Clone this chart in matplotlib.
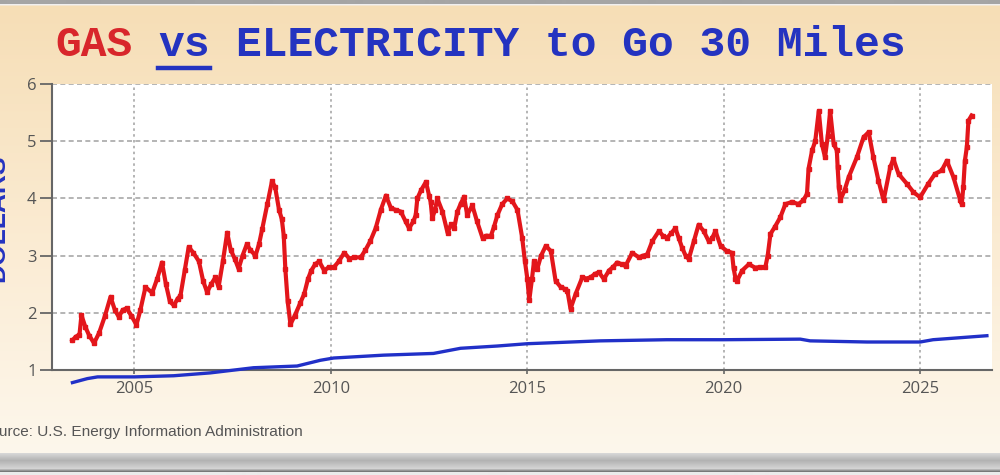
import numpy as np
import matplotlib.pyplot as plt
from matplotlib.lines import Line2D

# gas cost to go 30 miles
gas_year = [2003.42, 2003.5, 2003.6, 2003.65, 2003.75, 2003.85, 2003.97, 2004.1, 2004.25, 2004.39,
            2004.5, 2004.6, 2004.7, 2004.8, 2004.92, 2005.05, 2005.15, 2005.28, 2005.45, 2005.58,
            2005.7, 2005.8, 2005.9, 2006.0, 2006.1, 2006.17, 2006.28, 2006.38, 2006.5, 2006.64,
            2006.75, 2006.85, 2006.95, 2007.06, 2007.14, 2007.25, 2007.36, 2007.45, 2007.55, 2007.65,
            2007.75, 2007.86, 2007.95, 2008.08, 2008.17, 2008.25, 2008.38, 2008.5, 2008.58, 2008.68,
            2008.75, 2008.8, 2008.84, 2008.9, 2008.97, 2009.08, 2009.22, 2009.32, 2009.42, 2009.5,
            2009.6, 2009.7, 2009.83, 2009.95, 2010.08, 2010.2, 2010.34, 2010.47, 2010.6, 2010.76,
            2010.88, 2011.0, 2011.14, 2011.27, 2011.4, 2011.53, 2011.65, 2011.78, 2011.9, 2011.99,
            2012.1, 2012.16, 2012.2, 2012.3, 2012.42, 2012.5, 2012.54, 2012.58, 2012.65, 2012.71,
            2012.84, 2012.97, 2013.06, 2013.14, 2013.22, 2013.3, 2013.39, 2013.47, 2013.6, 2013.72,
            2013.86, 2013.96, 2014.07, 2014.15, 2014.24, 2014.36, 2014.49, 2014.62, 2014.75, 2014.87,
            2014.94, 2015.0, 2015.05, 2015.12, 2015.17, 2015.25, 2015.35, 2015.47, 2015.6, 2015.72,
            2015.85, 2015.95, 2016.02, 2016.1, 2016.23, 2016.4, 2016.5, 2016.61, 2016.72, 2016.82,
            2016.95, 2017.08, 2017.18, 2017.29, 2017.4, 2017.5, 2017.67, 2017.84, 2017.95, 2018.05,
            2018.18, 2018.35, 2018.45, 2018.56, 2018.67, 2018.77, 2018.86, 2018.94, 2019.03, 2019.11,
            2019.24, 2019.36, 2019.49, 2019.62, 2019.7, 2019.79, 2019.92, 2020.08, 2020.21, 2020.25,
            2020.3, 2020.34, 2020.47, 2020.64, 2020.8, 2020.93, 2021.06, 2021.12, 2021.19, 2021.3,
            2021.44, 2021.57, 2021.74, 2021.9, 2022.03, 2022.12, 2022.16, 2022.25, 2022.33, 2022.42,
            2022.5, 2022.58, 2022.65, 2022.71, 2022.8, 2022.88, 2022.9, 2022.93, 2022.97, 2023.08,
            2023.18, 2023.39, 2023.56, 2023.69, 2023.81, 2023.94, 2024.07, 2024.24, 2024.32, 2024.45,
            2024.66, 2024.83, 2025.0, 2025.21, 2025.38, 2025.55, 2025.68, 2025.85, 2026.02, 2026.06,
            2026.1, 2026.14, 2026.19, 2026.23, 2026.31]
gas_val = [1.52, 1.58, 1.62, 1.96, 1.75, 1.6, 1.47, 1.65, 1.95, 2.28,
           2.05, 1.93, 2.05, 2.08, 1.95, 1.79, 2.05, 2.45, 2.35, 2.6,
           2.88, 2.5, 2.2, 2.13, 2.25, 2.3, 2.75, 3.15, 3.05, 2.9,
           2.55, 2.36, 2.5, 2.62, 2.45, 2.9, 3.4, 3.1, 2.95, 2.77,
           3.0, 3.2, 3.1, 3.0, 3.2, 3.46, 3.9, 4.3, 4.2, 3.8,
           3.64, 3.35, 2.77, 2.2, 1.8, 1.95, 2.17, 2.33, 2.6, 2.74,
           2.85, 2.9, 2.74, 2.8, 2.8, 2.9, 3.05, 2.95, 2.97, 2.97,
           3.1, 3.25, 3.48, 3.8, 4.05, 3.83, 3.8, 3.77, 3.6, 3.48,
           3.6, 3.71, 4.0, 4.15, 4.29, 4.05, 3.94, 3.65, 3.8, 4.0,
           3.77, 3.4, 3.55, 3.48, 3.77, 3.9, 4.03, 3.71, 3.88, 3.6,
           3.31, 3.35, 3.34, 3.5, 3.71, 3.9, 4.0, 3.95, 3.8, 3.31,
           2.9, 2.6, 2.22, 2.6, 2.9, 2.76, 3.0, 3.17, 3.08, 2.56,
           2.45, 2.42, 2.39, 2.07, 2.33, 2.62, 2.6, 2.62, 2.68, 2.71,
           2.59, 2.74, 2.8, 2.88, 2.85, 2.82, 3.05, 2.97, 3.0, 3.02,
           3.25, 3.43, 3.35, 3.31, 3.4, 3.48, 3.3, 3.14, 3.0, 2.94,
           3.25, 3.54, 3.43, 3.25, 3.3, 3.43, 3.17, 3.08, 3.05, 2.79,
           2.6, 2.56, 2.74, 2.85, 2.79, 2.8, 2.8, 3.0, 3.38, 3.5,
           3.67, 3.9, 3.94, 3.9, 3.97, 4.08, 4.52, 4.84, 5.0, 5.53,
           4.95, 4.72, 5.1, 5.53, 4.95, 4.84, 4.55, 4.2, 3.97, 4.15,
           4.37, 4.72, 5.07, 5.16, 4.72, 4.31, 3.97, 4.55, 4.69, 4.43,
           4.26, 4.11, 4.02, 4.26, 4.43, 4.49, 4.66, 4.37, 3.97, 3.9,
           4.2, 4.66, 4.9, 5.36, 5.45]

# electricity cost to go 30 miles
elec_year = [2003.42, 2003.8, 2004.06, 2005.0, 2006.0, 2006.93, 2008.03, 2009.14, 2009.73, 2010.07,
             2011.34, 2012.61, 2013.3, 2014.24, 2015.0, 2016.86, 2018.55, 2020.0, 2021.95, 2022.2,
             2023.65, 2025.0, 2025.33, 2026.7]
elec_val = [0.78, 0.85, 0.88, 0.88, 0.9, 0.95, 1.04, 1.07, 1.17, 1.21,
            1.26, 1.29, 1.38, 1.42, 1.46, 1.51, 1.53, 1.53, 1.54, 1.51,
            1.49, 1.49, 1.53, 1.6]

x_ticks = [2005, 2010, 2015, 2020, 2025]
y_ticks = [1, 2, 3, 4, 5, 6]

RED = '#e3161b'
BLUE = '#2130c8'
TITLE_RED = '#d8262b'
TITLE_BLUE = '#2433c0'

fig = plt.figure(figsize=(10, 4.75), dpi=100)

# beige gradient backdrop with grey frame bands
rows = np.arange(475)
stops = [0, 3, 4, 6, 250, 452, 453, 460, 468, 471, 472, 475]
r = np.interp(rows, stops, [165, 165, 240, 246, 251, 253, 215, 178, 212, 120, 235, 235])
g = np.interp(rows, stops, [165, 165, 240, 222, 236, 247, 215, 178, 212, 120, 235, 235])
b = np.interp(rows, stops, [165, 165, 240, 182, 212, 236, 215, 178, 212, 120, 235, 235])
img = np.stack([r, g, b], axis=1)[:, None, :] / 255.0
bg = fig.add_axes([0, 0, 1, 1], zorder=-10)
bg.imshow(img, aspect='auto', extent=[0, 1, 0, 1], interpolation='bilinear')
bg.axis('off')

ax = fig.add_axes([0.052, 0.221, 0.94, 0.602])
ax.set_facecolor('white')

ax.plot(elec_year, elec_val, color=BLUE, lw=2.4, clip_on=False, zorder=4)
ax.plot(gas_year, gas_val, color=RED, lw=3, marker='s', ms=3.2, zorder=3)

ax.set_xlim(2002.9, 2026.83)
ax.set_ylim(1, 6)
ax.set_xticks(x_ticks)
ax.set_yticks(y_ticks)

ax.grid(axis='y', ls=(0, (3, 2)), color='#a8a8a8', lw=1.2)
ax.grid(axis='x', ls=(0, (1.5, 2)), color='#a8a8a8', lw=1.2)
ax.set_axisbelow(True)

for s in ['top', 'right']:
    ax.spines[s].set_visible(False)
for s in ['left', 'bottom']:
    ax.spines[s].set_color('#666666')
    ax.spines[s].set_linewidth(1.5)

ax.tick_params(axis='y', length=9, width=1.3, color='#666666', labelcolor='#555555',
               labelsize=12, pad=2)
ax.tick_params(axis='x', length=3, width=1.2, color='#666666', labelcolor='#555555',
               labelsize=12, pad=5)
for lab in ax.get_xticklabels() + ax.get_yticklabels():
    lab.set_family('Open Sans')

# title in three colours; monospace advance is 0.6 em per character
fsize = 31
charw = 0.6 * fsize * 100 / 72 / 1000
x0 = 0.055
tkw = dict(family='Liberation Mono', weight='bold', fontsize=fsize, va='baseline', ha='left')
fig.text(x0, 0.882, 'GAS', color=TITLE_RED, **tkw)
fig.text(x0 + 4 * charw, 0.882, 'vs', color=TITLE_BLUE, **tkw)
fig.text(x0 + 7 * charw, 0.882, 'ELECTRICITY to Go 30 Miles', color=TITLE_BLUE, **tkw)
fig.add_artist(Line2D([x0 + 4 * charw, x0 + 6 * charw], [0.856, 0.856], color=TITLE_BLUE,
                      lw=3.2, transform=fig.transFigure))

# y label and source line run off the left edge, as in the original
fig.text(0.009, 0.54, 'DOLLARS', rotation=90, ha='right', va='center', color=TITLE_BLUE,
         fontsize=19, weight='bold', family='Liberation Sans')
fig.text(0.303, 0.091, 'Source: U.S. Energy Information Administration', ha='right',
         va='center', color='#555555', fontsize=11.1, family='Liberation Sans')

fig.savefig('out.png', dpi=100)
